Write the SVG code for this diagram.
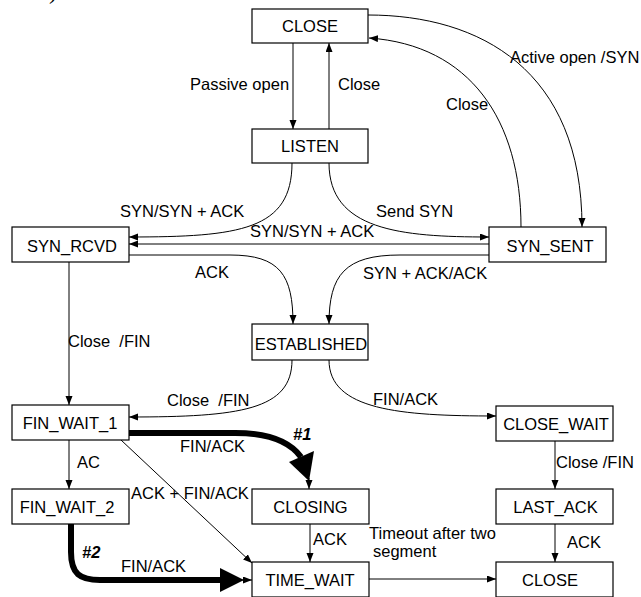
<svg xmlns="http://www.w3.org/2000/svg" width="641" height="597" viewBox="0 0 641 597">
<style>
  text { font-family: "Liberation Sans", Arial, sans-serif; font-size: 16.5px; fill: #000; white-space: pre; }
  .node rect { fill: #fff; stroke: #000; stroke-width: 1.2; }
  .node text { text-anchor: middle; }
  .conn path, .conn line { fill: none; stroke: #000; stroke-width: 1; }
  .conn .arr { marker-end: url(#ah); }
  .conn .thick { stroke-width: 6; }
  .conn polygon { fill: #000; stroke: none; }
  .bi { font-weight: bold; font-style: italic; }
</style>
<defs>
  <marker id="ah" markerUnits="userSpaceOnUse" markerWidth="10" markerHeight="8" refX="9" refY="3.5" orient="auto">
    <path d="M0,0 L9,3.5 L0,7 z" fill="#000"/>
  </marker>
</defs>
<rect width="641" height="597" fill="#fff"/>
<text x="57" y="-1" text-anchor="end" style="font-family:'Liberation Serif',serif;font-size:24px">ase)</text>

<g id="connectors" class="conn">
  <line class="arr" x1="293" y1="43" x2="293" y2="129"/>
  <line class="arr" x1="329" y1="129" x2="329" y2="43"/>
  <path class="arr" d="M368,15 C480,15 582,70 582,227"/>
  <path class="arr" d="M521,227 C521,120 470,45 369,38"/>
  <path class="arr" d="M292,163 C292,230 240,237 129,237"/>
  <path class="arr" d="M329,163 C329,230 400,237 489,237"/>
  <line class="arr" x1="489" y1="244" x2="129" y2="244"/>
  <path class="arr" d="M129,255 L230,255 C280,255 293,275 293,324"/>
  <path class="arr" d="M489,255 L400,255 C345,255 329,275 329,324"/>
  <line class="arr" x1="69" y1="262" x2="69" y2="405"/>
  <path class="arr" d="M292,360 C292,410 240,417 129,417"/>
  <path class="arr" d="M329,360 C329,410 400,416 496,416"/>
  <line class="arr" x1="555" y1="441" x2="555" y2="489"/>
  <line class="arr" x1="555" y1="524" x2="555" y2="562"/>
  <line class="arr" x1="369" y1="579" x2="496" y2="579"/>
  <line class="arr" x1="310" y1="524" x2="310" y2="562"/>
  <line class="arr" x1="69" y1="440" x2="69" y2="489"/>
  <line class="arr" x1="121" y1="440" x2="252" y2="563"/>
  <path class="thick" d="M129,433 L235,433 C268,433 290,442 301,457"/>
  <polygon points="289,462 314,451 309,481"/>
  <line class="arr" x1="309" y1="478" x2="309" y2="489"/>
  <path class="thick" d="M71,524 L71,552 C71,574 80,580 100,580 L222,580"/>
  <polygon points="220,568 220,592 244,580"/>
  <line class="arr" x1="242" y1="580" x2="252" y2="580"/>
</g>

<g id="labels">
  <text x="190" y="90">Passive open</text>
  <text x="338" y="90">Close</text>
  <text x="510" y="63">Active open /SYN</text>
  <text x="446" y="110">Close</text>
  <text x="120" y="217">SYN/SYN + ACK</text>
  <text x="376" y="217">Send SYN</text>
  <text x="250" y="237">SYN/SYN + ACK</text>
  <text x="195" y="278">ACK</text>
  <text x="363" y="279">SYN + ACK/ACK</text>
  <text x="68" y="347">Close  /FIN</text>
  <text x="167" y="406">Close  /FIN</text>
  <text x="373" y="405">FIN/ACK</text>
  <text x="556" y="468">Close /FIN</text>
  <text x="567" y="548">ACK</text>
  <text x="369" y="539">Timeout after two</text>
  <text x="373" y="557">segment</text>
  <text x="313" y="545">ACK</text>
  <text x="77" y="468">AC</text>
  <text x="131" y="499">ACK + FIN/ACK</text>
  <text x="180" y="452">FIN/ACK</text>
  <text class="bi" x="293" y="440">#1</text>
  <text class="bi" x="82" y="558">#2</text>
  <text x="121" y="572">FIN/ACK</text>
</g>

<g id="n-close-top" class="node"><rect x="252" y="9" width="116" height="34"/><text x="310" y="32">CLOSE</text></g>
<g id="n-listen" class="node"><rect x="252" y="129" width="116" height="34"/><text x="310" y="152">LISTEN</text></g>
<g id="n-syn-rcvd" class="node"><rect x="12" y="227" width="117" height="35"/><text x="72" y="252">SYN_RCVD</text></g>
<g id="n-syn-sent" class="node"><rect x="489" y="227" width="117" height="35"/><text x="550" y="252">SYN_SENT</text></g>
<g id="n-established" class="node"><rect x="252" y="324" width="116" height="36"/><text x="311" y="350">ESTABLISHED</text></g>
<g id="n-fin-wait-1" class="node"><rect x="12" y="405" width="117" height="35"/><text x="70" y="429">FIN_WAIT_1</text></g>
<g id="n-fin-wait-2" class="node"><rect x="12" y="489" width="117" height="35"/><text x="67" y="513">FIN_WAIT_2</text></g>
<g id="n-closing" class="node"><rect x="252" y="489" width="117" height="35"/><text x="310.5" y="513">CLOSING</text></g>
<g id="n-time-wait" class="node"><rect x="252" y="562" width="117" height="35"/><text x="310" y="586">TIME_WAIT</text></g>
<g id="n-close-wait" class="node"><rect x="496" y="406" width="117" height="35"/><text x="556" y="430">CLOSE_WAIT</text></g>
<g id="n-last-ack" class="node"><rect x="496" y="489" width="117" height="35"/><text x="555.5" y="513">LAST_ACK</text></g>
<g id="n-close-bottom" class="node"><rect x="496" y="562" width="117" height="35"/><text x="550" y="586">CLOSE</text></g>
</svg>
